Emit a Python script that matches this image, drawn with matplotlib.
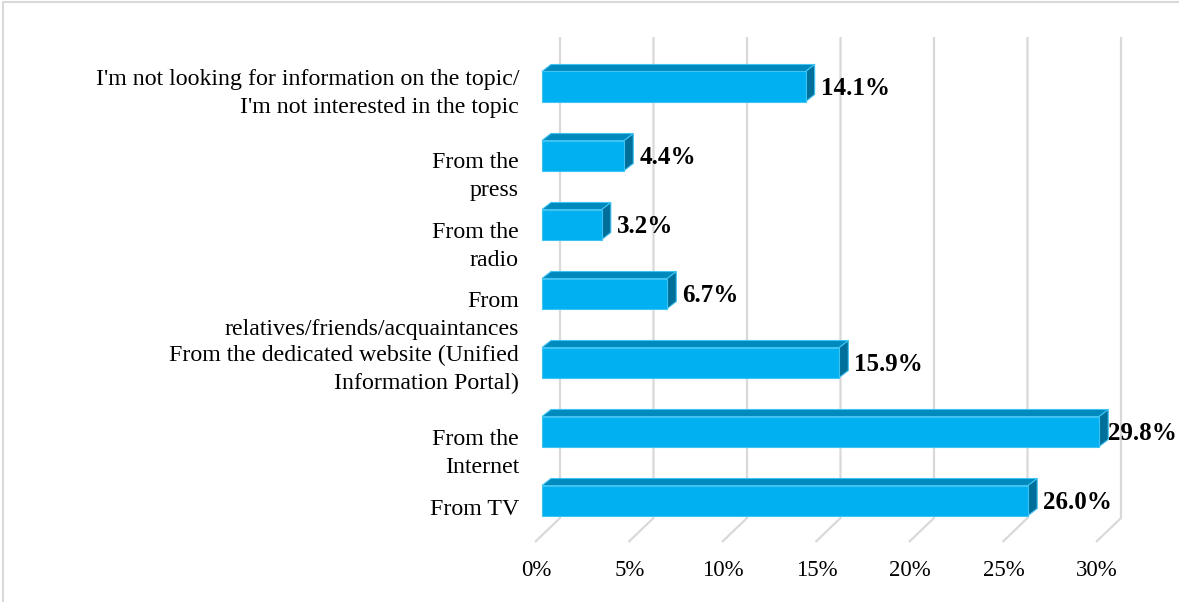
import matplotlib
matplotlib.use("Agg")
import matplotlib.pyplot as plt
from matplotlib.patches import Polygon, Rectangle

# survey answers, bottom row first
categories = [
    "From TV",
    "From the\nInternet",
    "From the dedicated website (Unified\nInformation Portal)",
    "From\nrelatives/friends/acquaintances",
    "From the\nradio",
    "From the\npress",
    "I'm not looking for information on the topic/\nI'm not interested in the topic",
]
shares = [26.0, 29.8, 15.9, 6.7, 3.2, 4.4, 14.1]
value_labels = ["26.0%", "29.8%", "15.9%", "6.7%", "3.2%", "4.4%", "14.1%"]
ticks = [0, 5, 10, 15, 20, 25, 30]
tick_labels = ["0%", "5%", "10%", "15%", "20%", "25%", "30%"]

# layout (figure is 1179x602 px at 100 dpi)
W, H = 1179, 602
px_x = 18.7      # pixels per percent point
px_y = 69.0      # pixels per category row
x0_px = 542      # where 0% sits on the bar fronts
y0_px = 500.5    # centre of the bottom bar, from the top edge

bar_h = 30 / px_y
depth_dx, depth_dy = 9 / px_x, 7 / px_y          # bar depth
back_dx, back_y = 18 / px_x, (y0_px - 518) / px_y  # back wall foot
front_dx, front_y = -7 / px_x, (y0_px - 542) / px_y  # floor front edge
wall_top = (y0_px - 37) / px_y
label_shift = [9, 22, 7, 22, 22, 21, 7]  # px, category label drop

fig = plt.figure(figsize=(W / 100, H / 100), dpi=100)
ax = fig.add_axes([0, 0, 1, 1])
ax.set_xlim(-x0_px / px_x, (W - x0_px) / px_x)
ax.set_ylim((y0_px - H) / px_y, y0_px / px_y)
ax.axis("off")

serif = ["Liberation Serif", "DejaVu Serif"]
grid_c = "#d9d9d9"

# gridlines: up the back wall, then across the floor
for t, tl in zip(ticks, tick_labels):
    ax.plot([t + back_dx, t + back_dx, t + front_dx],
            [wall_top, back_y, front_y],
            color=grid_c, lw=1.6, solid_capstyle="butt", zorder=1)
    ax.text(t + front_dx + 0.05, (y0_px - 571) / px_y, tl,
            ha="center", va="center", fontsize=16.5, family=serif)

front_c, top_c, side_c, edge_c = "#00b0f0", "#0089bd", "#006f99", "#3fc3f3"

for i, (cat, v, lab) in enumerate(zip(categories, shares, value_labels)):
    lo, hi = i - bar_h / 2, i + bar_h / 2
    top = Polygon([(0, hi), (v, hi), (v + depth_dx, hi + depth_dy), (depth_dx, hi + depth_dy)],
                  closed=True, fc=top_c, ec=edge_c, lw=0.8, zorder=3)
    side = Polygon([(v, lo), (v + depth_dx, lo + depth_dy), (v + depth_dx, hi + depth_dy), (v, hi)],
                   closed=True, fc=side_c, ec=edge_c, lw=0.8, zorder=3)
    front = Rectangle((0, lo), v, bar_h, fc=front_c, ec=edge_c, lw=0.8, zorder=4)
    for p in (top, side, front):
        ax.add_patch(p)

    # value label right of the bar, kept inside the frame
    lx = min(v + 15 / px_x, 30.25)
    ax.text(lx, i - 2 / px_y, lab, ha="left", va="center", fontsize=18,
            fontweight="bold", family=serif, zorder=5)
    ax.text(-23 / px_x, i - label_shift[i] / px_y, cat, ha="right", va="center",
            fontsize=17.2, family=serif, linespacing=1.4, multialignment="right")

# light frame on the top and left edges
fig.add_artist(plt.Line2D([2.5 / W, 2.5 / W, 1], [0, 1 - 1.5 / H, 1 - 1.5 / H],
                          transform=fig.transFigure, color=grid_c, lw=1.5))

fig.savefig("out.png", dpi=100)
